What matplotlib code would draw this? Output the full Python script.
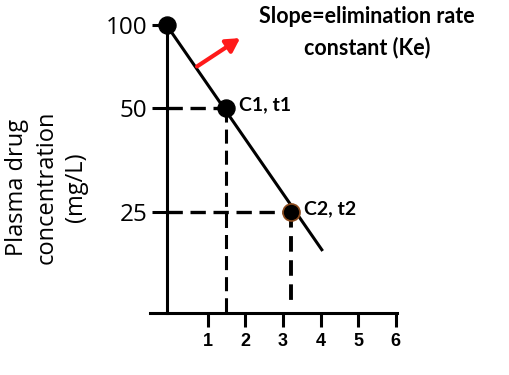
"""Schematic: first-order elimination, plasma concentration vs time."""

import matplotlib.pyplot as plt

# schematic axis values (positions are where the labels sit on the drawn axis)
time_ticks = [1, 2, 3, 4, 5, 6]
conc_labels = ["100", "50", "25"]
conc_pos = [10.0, 7.12, 3.51]

# elimination line and the marked points
line_t = [-0.1, 4.03]
line_c = [10.0, 2.2]
point_t = [-0.1, 1.48, 3.2]
point_c = [10.0, 7.12, 3.51]
point_names = ["", "C1, t1", "C2, t2"]

fig = plt.figure(figsize=(5.09, 3.75), dpi=100)
ax = fig.add_axes([0, 0, 1, 1])
ax.set_xlim(-4.53, 9.01)
ax.set_ylim(-2.15, 10.87)
ax.patch.set_alpha(0)

for side in ["top", "right"]:
    ax.spines[side].set_visible(False)
ax.spines["left"].set_position(("data", -0.1))
ax.spines["left"].set_bounds(0, 10)
ax.spines["bottom"].set_position(("data", 0))
ax.spines["bottom"].set_bounds(-0.54, 6.03)
for side in ["left", "bottom"]:
    ax.spines[side].set_linewidth(2.2)

ax.set_xticks(time_ticks)
ax.set_xticklabels([str(t) for t in time_ticks], fontfamily="Liberation Sans",
                   fontweight="bold", fontsize=13)
ax.tick_params(axis="x", direction="out", length=10, width=2.2, pad=4)
ax.set_yticks(conc_pos)
ax.set_yticklabels(conc_labels, fontfamily="Open Sans", fontsize=17.5)
ax.tick_params(axis="y", direction="out", length=11, width=2.2, pad=3)

ax.plot(line_t, line_c, color="black", lw=2.2)

# dashed guides from the axes to C1 and C2
dash = (0, (4.6, 2.3))
for t, c in zip(point_t[1:], point_c[1:]):
    ax.plot([-0.1, t], [c, c], color="black", lw=2.4, ls=dash)
ax.plot([point_t[1], point_t[1]], [point_c[1], 0], color="black", lw=2.2, ls=dash)
ax.plot([point_t[2], point_t[2]], [point_c[2], 0.3], color="black", lw=2.8,
        ls=(0, (4, 2.2)))

ax.scatter(point_t[:2], point_c[:2], s=150, color="black", zorder=5)
ax.scatter(point_t[2:], point_c[2:], s=150, color="black",
           edgecolor="#8b4a1c", linewidth=1.2, zorder=5)
for t, c, name in zip(point_t, point_c, point_names):
    if name:
        ax.text(t + 0.35, c + 0.12, name, fontfamily="Lato", fontweight="bold",
                fontsize=14, va="center", ha="left")

ax.annotate("", xy=(1.92, 9.6), xytext=(0.65, 8.51),
            arrowprops=dict(arrowstyle="-|>,head_width=0.45,head_length=0.8",
                            color="#ff1a1a", lw=3))
ax.text(5.24, 9.74, "Slope=elimination rate\nconstant (Ke)", fontfamily="Lato",
        fontweight="bold", fontsize=15.5, ha="center", va="center",
        linespacing=1.55)

fig.text(0.092, 0.50, "Plasma drug\nconcentration\n(mg/L)", rotation=90,
         ha="center", va="center", fontfamily="Open Sans", fontsize=17,
         linespacing=1.3)

fig.savefig("out.png", dpi=100)
